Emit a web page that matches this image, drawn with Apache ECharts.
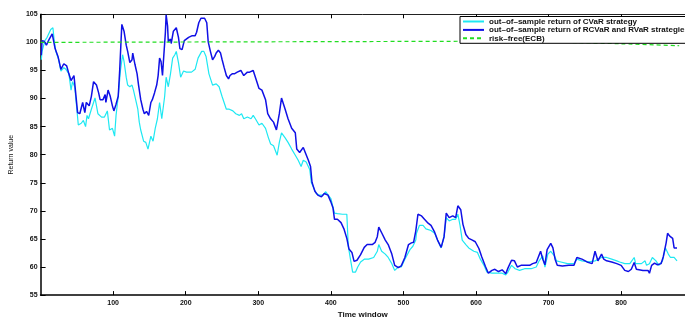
<!DOCTYPE html>
<html>
<head>
<meta charset="utf-8">
<script src="https://cdn.jsdelivr.net/npm/echarts@6/dist/echarts.min.js"></script>
<style>
  html, body { margin: 0; padding: 0; background: #fff; }
  #chart { width: 685px; height: 324px; }
</style>
</head>
<body>
<div id="chart"></div>
<script>
// Time-window indices and portfolio values (start = 100)
const cvarT = [1,2,6,9,14,17,19,21,25,28,32,35,39,42,44,47,50,52,56,59,62,64,66,70,75,79,84,88,92,95,99,102,104,107,110,113,115,118,120,123,126,128,131,134,136,138,142,145,148,152,155,158,161,164,167,171,173,176,179,182,185,187,190,193,197,201,208,213,217,222,225,228,232,237,242,246,250,256,260,265,269,274,277,280,285,290,293,296,301,305,310,314,317,321,326,329,332,337,341,346,351,355,359,362,366,371,373,377,380,384,389,393,400,405,409,416,422,424,427,430,434,437,441,446,452,459,464,466,470,475,479,484,488,493,497,502,509,513,517,518,522,527,531,538,543,547,552,556,559,563,568,572,575,578,581,586,590,597,602,606,611,615,622,629,636,641,644,649,654,660,667,676,683,687,692,695,699,703,708,711,717,726,735,739,746,755,764,773,780,787,794,798,805,812,818,820,828,833,835,839,843,848,852,857,861,865,868,873,877];
const cvarVal = [96.9,98.4,100.3,100.9,102.3,102.6,100.1,98.4,96.9,94.9,95.5,95.2,94.4,91.5,93.0,92.1,88.1,85.3,85.6,86.1,85.0,87.0,86.4,88.1,90.1,87.3,86.7,86.7,87.8,84.4,84.7,83.3,87.0,90.4,94.9,97.8,96.6,93.8,92.4,92.1,92.4,91.5,89.8,88.1,85.8,84.4,82.4,82.2,81.0,83.3,82.4,84.7,86.4,89.3,86.4,90.4,93.8,92.1,94.4,97.2,97.8,98.4,96.4,93.8,94.9,94.7,94.7,95.2,97.2,98.4,98.4,97.5,94.4,92.4,92.6,92.1,90.4,88.1,88.1,87.8,87.3,87.0,87.3,86.4,86.7,86.4,87.0,86.4,85.3,85.6,84.7,83.0,81.9,81.6,79.9,82.2,83.9,83.0,82.2,81.0,79.9,79.0,77.9,79.0,78.7,77.3,75.1,73.9,73.1,72.8,72.8,73.4,72.2,69.6,69.5,69.4,69.4,63.7,61.4,59.1,59.1,60.0,60.9,61.4,61.4,61.7,62.8,64.0,62.8,62.3,61.7,60.6,59.4,60.0,60.0,61.4,63.1,63.7,64.8,66.0,67.4,67.4,66.8,66.5,66.0,64.8,63.4,65.4,68.8,68.2,68.5,68.5,69.4,67.4,64.8,64.0,63.4,62.8,62.6,61.4,60.3,59.1,58.9,58.9,58.9,58.6,59.1,60.3,59.7,59.4,59.7,59.7,60.0,61.1,62.0,60.0,62.3,62.8,62.0,61.1,60.9,60.6,60.6,61.4,61.1,60.9,61.1,61.7,61.7,61.4,61.1,60.9,60.6,60.6,61.7,60.6,60.6,61.1,60.3,60.6,61.7,61.1,60.3,61.1,63.4,62.3,61.7,61.7,61.1];

const rcvarT = [1,2,5,8,12,16,17,20,24,28,32,36,39,42,46,48,51,54,58,61,63,67,70,73,77,80,82,86,89,90,93,96,99,101,104,107,109,111,112,115,118,120,123,126,127,130,133,135,138,141,143,146,149,152,154,157,160,162,164,166,168,169,172,173,175,176,179,180,183,185,187,190,192,195,198,200,204,209,213,215,218,221,223,226,229,231,234,237,240,242,245,248,250,253,256,259,261,264,267,271,276,280,285,288,293,296,301,305,310,313,317,321,325,329,332,337,341,346,351,353,357,362,365,369,372,374,378,382,387,391,396,400,403,405,409,414,418,422,425,429,432,436,441,446,450,457,461,464,466,470,475,479,484,488,493,497,502,507,511,514,517,520,525,529,534,538,543,547,552,556,559,563,568,572,575,579,582,586,590,595,599,604,608,613,617,622,626,631,636,641,644,649,653,657,662,667,674,678,683,689,692,695,698,703,706,709,712,719,728,735,739,746,753,760,764,768,773,776,780,787,794,800,805,810,814,818,821,830,837,839,842,846,850,855,858,862,864,867,871,873,877];
const rcvarVal = [97.7,100.3,100.2,99.5,100.6,101.5,100.9,98.9,97.5,95.2,96.2,95.8,94.4,93.2,94.1,93.8,87.5,87.3,89.3,87.5,89.3,88.7,90.4,93.0,92.4,91.0,89.8,89.8,90.7,89.3,91.5,90.4,88.7,87.8,89.0,90.4,95.0,100.6,103.2,102.0,99.5,98.4,96.4,96.9,98.1,96.1,94.4,92.4,89.8,88.1,87.3,87.7,87.0,89.3,89.8,91.0,92.4,94.1,97.2,96.6,94.1,96.1,101.8,104.9,102.9,100.1,100.6,99.8,102.0,101.8,102.6,100.9,98.9,98.7,100.3,100.6,100.9,101.2,101.2,101.8,103.5,104.3,104.6,104.3,103.5,100.1,98.4,96.9,97.5,98.1,98.6,98.1,97.0,95.5,94.1,93.5,94.1,94.4,94.4,94.7,95.0,94.1,94.7,94.7,95.0,93.8,91.8,91.5,89.8,87.3,86.4,85.8,84.4,87.3,90.1,88.1,86.4,84.7,83.9,81.0,80.4,81.3,80.3,79.0,77.9,75.1,73.5,72.8,72.5,73.1,72.8,71.6,70.5,68.5,68.5,67.9,66.8,65.1,63.2,62.6,61.0,61.2,62.2,63.5,64.0,64.0,64.4,65.4,67.1,66.1,64.8,64.0,62.3,60.3,59.9,60.2,61.7,64.0,64.3,64.4,66.4,69.4,69.1,68.5,67.8,67.4,66.2,64.8,63.5,65.4,69.6,68.8,69.1,68.8,70.9,70.2,67.6,65.8,65.1,64.8,64.5,63.3,61.8,60.1,58.9,59.4,59.6,59.2,59.5,58.8,59.8,61.2,61.1,60.0,60.3,60.3,60.3,60.6,60.8,62.8,61.4,60.4,63.1,64.2,63.4,61.4,60.3,60.2,60.3,60.3,61.7,61.4,60.9,60.6,62.8,61.1,62.3,61.4,61.1,60.9,60.6,60.3,59.4,59.2,59.6,60.8,59.6,59.4,59.4,58.9,60.3,60.7,60.4,60.6,61.8,64.3,66.0,65.5,65.1,63.4,63.4];

// ECB risk-free benchmark
const rfT = [0, 150, 300, 450, 600, 680, 740, 800, 880];
const rfVal = [100, 100.05, 100.1, 100.15, 100.2, 100.15, 99.95, 99.75, 99.4];

// Axis ticks
const xTicks = [100, 200, 300, 400, 500, 600, 700, 800];
const yTicks = [55, 60, 65, 70, 75, 80, 85, 90, 95, 100, 105];

const seriesNames = [
  'out\u2013of\u2013sample return of CVaR strategy',
  'out\u2013of\u2013sample return of RCVaR and RVaR strategies',
  'risk\u2013free(ECB)'
];

const zip = (t, v) => t.map((x, i) => [x, v[i]]);

const FONT = '"Liberation Sans", Arial, Helvetica, sans-serif';
const X_MIN = 0, X_MAX = 888, X_STEP = xTicks[1] - xTicks[0];
const Y_MIN = yTicks[0], Y_MAX = yTicks[yTicks.length - 1], Y_STEP = yTicks[1] - yTicks[0];

const chart = echarts.init(document.getElementById('chart'), null, { renderer: 'canvas' });

chart.setOption({
  animation: false,
  backgroundColor: '#ffffff',
  grid: { left: 38.3, top: 14.3, width: 654.5, height: 293.4, containLabel: false },
  legend: {
    orient: 'vertical',
    left: 460,
    top: 16.5,
    padding: [1, 60, 1, 2],
    itemWidth: 21,
    itemHeight: 6,
    itemGap: 0.4,
    backgroundColor: '#ffffff',
    borderColor: '#000000',
    borderWidth: 1,
    selectedMode: false,
    // legend keys show the line only, no marker
    itemStyle: { opacity: 0 },
    textStyle: { fontFamily: FONT, fontSize: 8, fontWeight: 'bold', color: '#111', lineHeight: 6.4 },
    data: seriesNames
  },
  xAxis: [
    {
      type: 'value', position: 'bottom',
      min: X_MIN, max: X_MAX, interval: X_STEP,
      name: 'Time window', nameLocation: 'middle', nameGap: 8,
      nameTextStyle: { fontFamily: FONT, fontSize: 8, fontWeight: 'bold', color: '#111' },
      axisLine: { show: true, lineStyle: { color: '#000', width: 1.5 } },
      axisTick: { show: true, inside: true, length: 4, lineStyle: { color: '#000', width: 1 } },
      axisLabel: {
        showMinLabel: false, showMaxLabel: false, margin: 4,
        fontFamily: FONT, fontSize: 7, fontWeight: 'bold', color: '#111'
      },
      splitLine: { show: false }
    },
    {
      type: 'value', position: 'top',
      min: X_MIN, max: X_MAX, interval: X_STEP,
      axisLine: { show: true, lineStyle: { color: '#222', width: 1 } },
      axisTick: { show: true, inside: true, length: 4, lineStyle: { color: '#000', width: 1 } },
      axisLabel: { show: false },
      splitLine: { show: false }
    }
  ],
  yAxis: {
    type: 'value',
    min: Y_MIN, max: Y_MAX, interval: Y_STEP,
    name: 'Return value', nameLocation: 'middle', nameGap: 16,
    nameTextStyle: { fontFamily: FONT, fontSize: 7, color: '#111' },
    axisLine: { show: true, lineStyle: { color: '#000', width: 1.5 } },
    axisTick: { show: true, inside: true, length: 5, lineStyle: { color: '#000', width: 1 } },
    axisLabel: { margin: 3, fontFamily: FONT, fontSize: 7, fontWeight: 'bold', color: '#111' },
    splitLine: { show: false }
  },
  series: [
    {
      name: seriesNames[0], type: 'line', symbol: 'none',
      data: zip(cvarT, cvarVal),
      lineStyle: { color: '#1ee8f2', width: 1.2 },
      itemStyle: { color: '#1ee8f2' }
    },
    {
      name: seriesNames[1], type: 'line', symbol: 'none',
      data: zip(rcvarT, rcvarVal),
      lineStyle: { color: '#1010e6', width: 1.5 },
      itemStyle: { color: '#1010e6' }
    },
    {
      name: seriesNames[2], type: 'line', symbol: 'none', smooth: 0.3,
      data: zip(rfT, rfVal),
      lineStyle: { color: '#22dd22', width: 1.2, type: [4, 3] },
      itemStyle: { color: '#22dd22' }
    }
  ]
});
</script>
</body>
</html>
